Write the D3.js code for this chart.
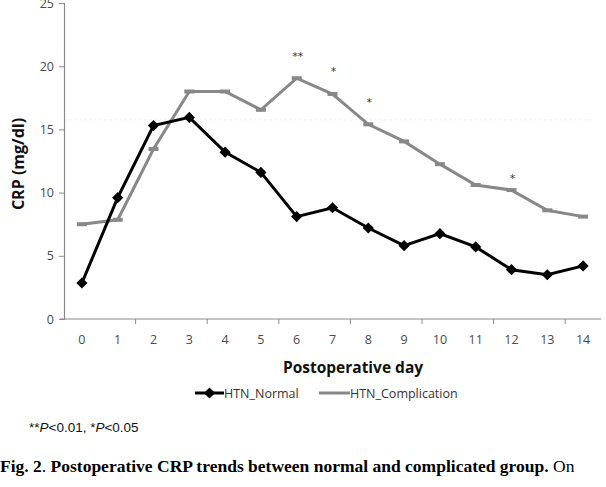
<!DOCTYPE html>
<html>
<head>
<meta charset="utf-8">
<script src="https://cdn.jsdelivr.net/npm/d3@7"></script>
<style>
  body { margin: 0; background: #fff; }
  svg { display: block; }
</style>
</head>
<body>
<div class="crp-chart"></div>
<script>
// days after surgery
var days = [0, 1, 2, 3, 4, 5, 6, 7, 8, 9, 10, 11, 12, 13, 14];
var htnNormal = [2.85, 9.6, 15.3, 15.95, 13.2, 11.6, 8.1, 8.8, 7.2, 5.8, 6.75, 5.7, 3.9, 3.5, 4.2];
var htnComplication = [7.5, 7.85, 13.45, 18.0, 18.0, 16.55, 19.05, 17.8, 15.4, 14.05, 12.25, 10.6, 10.2, 8.6, 8.1];
var yTicks = [0, 5, 10, 15, 20, 25];
// significance marks over the complication line
var sigDays = [6, 7, 8, 12];
var sigMarks = ["**", "*", "*", "*"];
var sigLevels = [21.0, 19.75, 17.3, 11.35];

function crpChart() {
    var W = 606, H = 487;
    var margin = { top: 3, left: 64, right: 5 },
        width = 601 - margin.left,
        height = 319 - margin.top;

    var root = d3.select('.crp-chart')
        .append('svg')
        .attr('width', W)
        .attr('height', H);

    var svg = root.append('g')
        .attr('transform', 'translate(' + margin.left + ',' + margin.top + ')');

    var x = d3.scaleBand().domain(days).range([0, width]);
    var y = d3.scaleLinear().domain([0, 25]).range([height, 0]);
    var cx = function(d) { return x(d) + x.bandwidth() / 2; };

    // faint scan line
    svg.append('line')
        .attr('x1', 0).attr('x2', width - 10)
        .attr('y1', y(15.75)).attr('y2', y(15.75))
        .attr('stroke', '#eee')
        .attr('stroke-dasharray', '3 2');

    // y axis
    var yAxis = svg.append('g')
        .attr('class', 'y-axis')
        .call(d3.axisLeft(y).tickValues(yTicks).tickSize(5).tickPadding(5));
    yAxis.select('.domain').attr('stroke', '#8a8a8a').attr('stroke-width', 1.2);
    yAxis.selectAll('.tick line').attr('stroke', '#8a8a8a');
    yAxis.selectAll('text')
        .attr('fill', '#4a4a4a')
        .style('font-family', 'Open Sans, DejaVu Sans, sans-serif')
        .style('font-size', '12.5px');

    // x axis: line plus ticks every second band boundary
    var xAxis = svg.append('g').attr('class', 'x-axis')
        .attr('transform', 'translate(0,' + height + ')');
    xAxis.append('line')
        .attr('x1', -4).attr('x2', width)
        .attr('stroke', '#8a8a8a').attr('stroke-width', 1.2);
    xAxis.selectAll('.xt')
        .data(days.filter(function(d) { return d > 0 && d % 2 === 0; }))
        .enter().append('line')
        .attr('x1', function(d) { return x(d); })
        .attr('x2', function(d) { return x(d); })
        .attr('y1', 0).attr('y2', 5)
        .attr('stroke', '#8a8a8a');
    xAxis.selectAll('.xl')
        .data(days)
        .enter().append('text')
        .attr('x', cx)
        .attr('y', 25)
        .attr('text-anchor', 'middle')
        .attr('fill', '#4a4a4a')
        .style('font-family', 'Open Sans, DejaVu Sans, sans-serif')
        .style('font-size', '12.5px')
        .text(function(d) { return d; });

    // axis titles
    root.append('text')
        .attr('transform', 'translate(24,' + 164 + ') rotate(-90)')
        .attr('text-anchor', 'middle')
        .style('font-family', 'Open Sans, DejaVu Sans, sans-serif')
        .style('font-size', '16px')
        .style('font-weight', 'bold')
        .attr('fill', '#111')
        .text('CRP (mg/dl)');

    root.append('text')
        .attr('x', 353).attr('y', 373)
        .attr('text-anchor', 'middle')
        .style('font-family', 'Open Sans, DejaVu Sans, sans-serif')
        .style('font-size', '15.5px')
        .style('font-weight', 'bold')
        .attr('fill', '#111')
        .text('Postoperative day');

    var line = function(vals) {
        return d3.line()
            .x(function(d, i) { return cx(days[i]); })
            .y(function(d) { return y(d); })(vals);
    };

    // complication series (grey, dash markers)
    svg.append('path')
        .attr('d', line(htnComplication))
        .attr('fill', 'none')
        .attr('stroke', '#888')
        .attr('stroke-width', 3);
    svg.selectAll('.cm')
        .data(htnComplication)
        .enter().append('rect')
        .attr('x', function(d, i) { return cx(days[i]) - 5; })
        .attr('y', function(d) { return y(d) - 2; })
        .attr('width', 10).attr('height', 4)
        .attr('fill', '#888');

    // normal series (black, diamonds)
    svg.append('path')
        .attr('d', line(htnNormal))
        .attr('fill', 'none')
        .attr('stroke', '#000')
        .attr('stroke-width', 3);
    var diamond = d3.symbol().type(d3.symbolDiamond2).size(80);
    svg.selectAll('.nm')
        .data(htnNormal)
        .enter().append('path')
        .attr('d', diamond)
        .attr('transform', function(d, i) { return 'translate(' + cx(days[i]) + ',' + y(d) + ')'; })
        .attr('fill', '#000');

    // significance asterisks
    svg.selectAll('.sig')
        .data(sigDays)
        .enter().append('text')
        .attr('x', function(d) { return cx(d) + 1; })
        .attr('y', function(d, i) { return y(sigLevels[i]) + 6; })
        .attr('text-anchor', 'middle')
        .style('font-family', 'DejaVu Sans, sans-serif')
        .style('font-size', '11px')
        .attr('fill', '#333')
        .text(function(d, i) { return sigMarks[i]; });

    // legend
    var leg = root.append('g').attr('class', 'legend')
        .style('font-family', 'Open Sans, DejaVu Sans, sans-serif')
        .style('font-size', '12.5px');
    leg.append('line').attr('x1', 195).attr('x2', 224).attr('y1', 393).attr('y2', 393)
        .attr('stroke', '#000').attr('stroke-width', 3);
    leg.append('path').attr('d', diamond)
        .attr('transform', 'translate(209.5,393)').attr('fill', '#000');
    leg.append('text').attr('x', 224).attr('y', 397.5).attr('fill', '#333').text('HTN_Normal');
    leg.append('line').attr('x1', 319).attr('x2', 350).attr('y1', 393).attr('y2', 393)
        .attr('stroke', '#888').attr('stroke-width', 3);
    leg.append('text').attr('x', 350).attr('y', 397.5).attr('fill', '#333').text('HTN_Complication');

    // footnote
    var fn = root.append('text')
        .attr('x', 29).attr('y', 432)
        .style('font-family', 'Liberation Sans, Arial, sans-serif')
        .style('font-size', '13.5px')
        .attr('fill', '#111');
    fn.append('tspan').text('**');
    fn.append('tspan').style('font-style', 'italic').text('P');
    fn.append('tspan').text('<0.01, *');
    fn.append('tspan').style('font-style', 'italic').text('P');
    fn.append('tspan').text('<0.05');

    // caption
    var cap = root.append('text')
        .attr('x', 0).attr('y', 472)
        .style('font-family', 'Liberation Serif, Times New Roman, serif')
        .style('font-size', '17.5px')
        .attr('fill', '#000');
    cap.append('tspan').style('font-weight', 'bold').text('Fig. 2');
    cap.append('tspan').text('. ');
    cap.append('tspan').style('font-weight', 'bold').text('Postoperative CRP trends between normal and complicated group.');
    cap.append('tspan').text(' On');
}

crpChart();
</script>
</body>
</html>
